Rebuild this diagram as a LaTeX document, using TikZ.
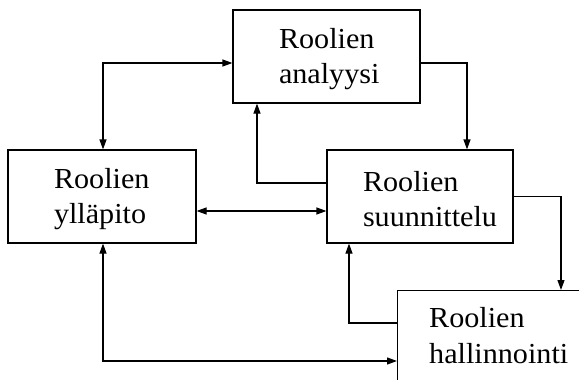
\documentclass[tikz,border=0pt]{standalone}
\usepackage{fontspec}
\setmainfont{Liberation Serif}[FakeStretch=1.04]
\usetikzlibrary{arrows.meta,calc,positioning}
\newcommand{\topstrut}{\rule{0pt}{25.5pt}}
\begin{document}
\begin{tikzpicture}[x=1pt,y=-1pt,
  box/.style={draw,line width=1.2pt,rectangle,inner sep=0pt,align=left,
    font=\fontsize{29}{35.5}\selectfont},
  conn/.style={line width=1.2pt,-{Triangle[length=10pt,width=7pt]}},
  conn2/.style={line width=1.2pt,{Triangle[length=10pt,width=7pt]}-{Triangle[length=10pt,width=7pt]}},
  lbl/.style={inner sep=0pt,anchor=base west,font=\fontsize{29}{35}\selectfont,align=left}]
\useasboundingbox (0,0) rectangle (579,380);
\clip (0,0) rectangle (579,380);
\node[box,minimum width=187pt,minimum height=93pt,text width=95pt] (A) at (326.5,56.5) {\topstrut Roolien\\analyysi};
\node[box,minimum width=188pt,minimum height=93pt,text width=96pt] (L) at (102,196.5) {\topstrut Roolien\\ylläpito};
\node[box,minimum width=186pt,minimum height=93pt,text width=114pt] (S) at (420,196.5) {\topstrut Roolien\\suunnittelu};
\node[draw,line width=1.2pt,inner sep=0pt,minimum width=220pt,minimum height=130pt,anchor=north west] (H) at (397,290) {};
\node[lbl] (Ht) at (429,327) {Roolien};
\node[lbl] (Ht2) at (429,363) {hallinnointi};
% connectors
\draw[conn2] (L.north -| 103,0) |- ($(A.west)+(0,6.5)$);
\draw[conn] ($(A.east)+(0,6.5)$) -| ($(S.north)+(47,0)$);
\draw[conn] ($(S.west)+(0,-13.5)$) -| ($(A.south)+(-69.5,0)$);
\draw[conn2] ($(L.east)+(0,14.5)$) -- ($(S.west)+(0,14.5)$);
\draw[conn] (S.east) -| ($(H.north west)+(164,0)$);
\draw[conn] ($(H.north west)+(0,33)$) -| ($(S.south)+(-71,0)$);
\draw[conn2] (L.south -| 103,0) |- ($(H.north west)+(0,71)$);
\end{tikzpicture}
\end{document}
